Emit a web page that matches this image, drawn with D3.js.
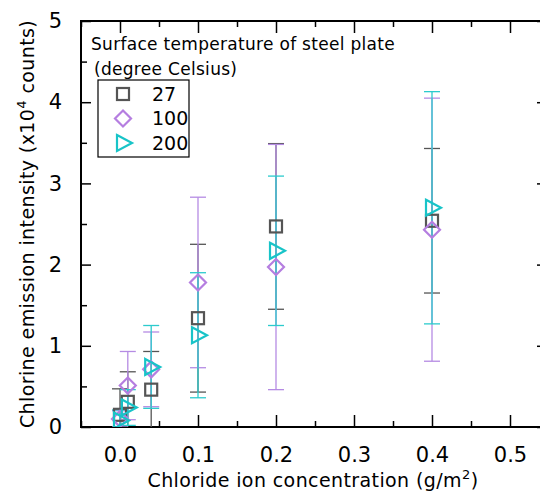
<!DOCTYPE html>
<html>
<head>
<meta charset="utf-8">
<script src="https://cdn.jsdelivr.net/npm/d3@7"></script>
<style>
  body { margin: 0; background: #fff; }
  text { font-family: "DejaVu Sans", sans-serif; }
</style>
</head>
<body>
<div id="chart"></div>
<script>
// Daten
const concentrations = [0, 0.01, 0.04, 0.1, 0.2, 0.4];
const seriesNames = ["27", "100", "200"];
const mean27 = [0.15, 0.31, 0.46, 1.34, 2.47, 2.54];
const err27 = [0.32, 0.37, 0.47, 0.91, 1.02, 0.89];
const mean100 = [0.10, 0.51, 0.71, 1.78, 1.97, 2.43];
const err100 = [0.10, 0.42, 0.46, 1.05, 1.51, 1.62];
const mean200 = [0.08, 0.24, 0.74, 1.13, 2.17, 2.70];
const err200 = [0.13, 0.22, 0.51, 0.77, 0.92, 1.43];
const xTicks = [0, 0.1, 0.2, 0.3, 0.4, 0.5];
const yTicks = [0, 1, 2, 3, 4, 5];

const width = 540, height = 495;
const margin = {left: 81, top: 21, right: -9, bottom: 68};

const svg = d3.select("#chart").append("svg")
    .attr("width", width)
    .attr("height", height);

const x = d3.scaleLinear().domain([-0.05, 0.55]).range([margin.left, width - margin.right]);
const y = d3.scaleLinear().domain([0, 5]).range([height - margin.bottom, margin.top]);

const styles = {
    "27": {color: "#555555", bar: "#555555", shape: "square"},
    "100": {color: "#b57ee0", bar: "#b58be3", shape: "diamond"},
    "200": {color: "#18c4c8", bar: "#2ccbcd", shape: "triangle"}
};

const series = [
    {name: "27", mean: mean27, err: err27},
    {name: "100", mean: mean100, err: err100},
    {name: "200", mean: mean200, err: err200}
];

// Clip
svg.append("clipPath").attr("id", "clip")
    .append("rect")
    .attr("x", margin.left).attr("y", margin.top)
    .attr("width", x.range()[1] - margin.left)
    .attr("height", y(0) - margin.top);

const minorX = [-0.05, 0.05, 0.15, 0.25, 0.35, 0.45, 0.55];
const minorY = [0.5, 1.5, 2.5, 3.5, 4.5];

function axisGroup(axis, transform) {
    const g = svg.append("g").attr("transform", transform).call(axis);
    g.select(".domain").remove();
    g.selectAll("line").attr("stroke", "#000").attr("stroke-width", 1.5);
    return g;
}

// Achsen, Ticks nach innen
const bottom = axisGroup(d3.axisBottom(x).tickValues(xTicks).tickSize(-12).tickPadding(20)
    .tickFormat(d3.format(".1f")), `translate(0,${y(0)})`);
bottom.selectAll("text").attr("font-size", 21).attr("fill", "#000").attr("dy", "0.71em")
    .attr("font-family", "DejaVu Sans");
axisGroup(d3.axisBottom(x).tickValues(minorX).tickSize(-6).tickFormat(""), `translate(0,${y(0)})`);
axisGroup(d3.axisTop(x).tickValues(xTicks).tickSize(-12).tickFormat(""), `translate(0,${margin.top})`);
axisGroup(d3.axisTop(x).tickValues(minorX).tickSize(-6).tickFormat(""), `translate(0,${margin.top})`);

const left = axisGroup(d3.axisLeft(y).tickValues(yTicks).tickSize(-10).tickPadding(19)
    .tickFormat(d3.format("d")), `translate(${margin.left},0)`);
left.selectAll("text").attr("font-size", 21).attr("fill", "#000")
    .attr("font-family", "DejaVu Sans");
axisGroup(d3.axisLeft(y).tickValues(minorY).tickSize(-6).tickFormat(""), `translate(${margin.left},0)`);
axisGroup(d3.axisRight(y).tickValues(yTicks).tickSize(-12).tickFormat(""), `translate(${x.range()[1]},0)`);
axisGroup(d3.axisRight(y).tickValues(minorY).tickSize(-6).tickFormat(""), `translate(${x.range()[1]},0)`);

// Rahmen
svg.append("rect")
    .attr("x", margin.left).attr("y", margin.top)
    .attr("width", x.range()[1] - margin.left)
    .attr("height", y(0) - margin.top)
    .attr("fill", "none").attr("stroke", "#000").attr("stroke-width", 2);

// Marker
function marker(sel, shape, color) {
    if (shape === "square") {
        sel.append("rect").attr("x", -6).attr("y", -6).attr("width", 12).attr("height", 12)
            .attr("fill", "none").attr("stroke", color).attr("stroke-width", 2.2);
    } else if (shape === "diamond") {
        sel.append("path").attr("d", "M0,-8L8,0L0,8L-8,0Z")
            .attr("fill", "none").attr("stroke", color).attr("stroke-width", 2.2);
    } else {
        sel.append("path").attr("d", "M-6,-8L9,0L-6,8Z")
            .attr("fill", "none").attr("stroke", color).attr("stroke-width", 2.2);
    }
}

const plot = svg.append("g").attr("clip-path", "url(#clip)");

series.forEach(s => {
    const st = styles[s.name];
    const pts = concentrations.map((c, i) => ({x: c, m: s.mean[i], e: s.err[i]}));
    const g = plot.append("g");
    // Fehlerbalken
    const eb = g.selectAll("g.eb").data(pts).join("g").attr("class", "eb");
    eb.append("line")
        .attr("x1", d => x(d.x)).attr("x2", d => x(d.x))
        .attr("y1", d => y(d.m - d.e)).attr("y2", d => y(d.m + d.e))
        .attr("stroke", st.bar).attr("stroke-width", 1.3);
    eb.append("line")
        .attr("x1", d => x(d.x) - 8).attr("x2", d => x(d.x) + 8)
        .attr("y1", d => y(d.m + d.e)).attr("y2", d => y(d.m + d.e))
        .attr("stroke", st.bar).attr("stroke-width", 1.3);
    eb.append("line")
        .attr("x1", d => x(d.x) - 8).attr("x2", d => x(d.x) + 8)
        .attr("y1", d => y(d.m - d.e)).attr("y2", d => y(d.m - d.e))
        .attr("stroke", st.bar).attr("stroke-width", 1.3);
});

series.forEach(s => {
    const st = styles[s.name];
    const pts = concentrations.map((c, i) => ({x: c, m: s.mean[i]}));
    plot.append("g").selectAll("g").data(pts).join("g")
        .attr("transform", d => `translate(${x(d.x)},${y(d.m)})`)
        .each(function() { marker(d3.select(this), st.shape, st.color); });
});

// Achsentitel
const xt = svg.append("text")
    .attr("x", 313).attr("y", 487)
    .attr("text-anchor", "middle").attr("font-size", 19).attr("letter-spacing", 0.4);
xt.append("tspan").text("Chloride ion concentration (g/m");
xt.append("tspan").attr("font-size", 13).attr("dy", -8).text("2");
xt.append("tspan").attr("dy", 8).text(")");

const yt = svg.append("text")
    .attr("transform", "translate(34,224) rotate(-90)")
    .attr("text-anchor", "middle").attr("font-size", 19).attr("letter-spacing", 0.4);
yt.append("tspan").text("Chlorine emission intensity (x10");
yt.append("tspan").attr("font-size", 13).attr("dy", -8).text("4");
yt.append("tspan").attr("dy", 8).text(" counts)");

// Legende
svg.append("text").attr("x", 91).attr("y", 50).attr("font-size", 17).attr("letter-spacing", 0.3)
    .text("Surface temperature of steel plate");
svg.append("text").attr("x", 94).attr("y", 75).attr("font-size", 17).attr("letter-spacing", 0.3)
    .text("(degree Celsius)");

svg.append("rect")
    .attr("x", 98).attr("y", 80).attr("width", 91).attr("height", 77)
    .attr("fill", "#fff").attr("stroke", "#000").attr("stroke-width", 1.2);

const leg = svg.append("g").selectAll("g").data(seriesNames).join("g")
    .attr("transform", (d, i) => `translate(123,${94 + i * 24.5})`);
leg.each(function(d) { marker(d3.select(this), styles[d].shape, styles[d].color); });
leg.append("text").attr("x", 29).attr("dy", "0.36em").attr("font-size", 19)
    .text(d => d);
</script>
</body>
</html>
